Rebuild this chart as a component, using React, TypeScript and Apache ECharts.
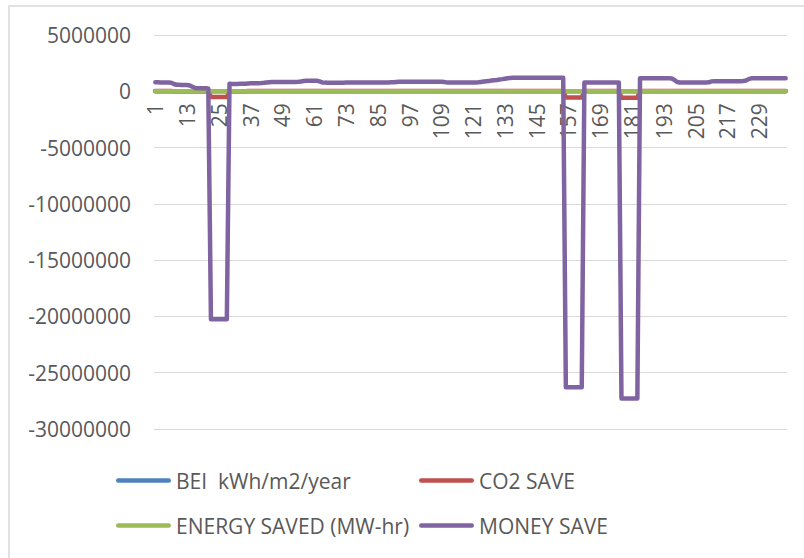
import React, { useEffect, useRef } from "react";
import * as echarts from "echarts";

const categories: string[] = Array.from({ length: 239 }, (_, i) => String(i + 1));

const yTicks = { min: -30000000, max: 5000000, interval: 5000000 };

const seriesNames = ["BEI  kWh/m2/year", "CO2 SAVE", "ENERGY SAVED (MW-hr)", "MONEY SAVE"];

const beiKwhM2Year = [
  182, 182, 181, 181, 181, 180, 180, 178, 176, 176,
  175, 175, 175, 174, 172, 170, 170, 170, 170, 169,
  168, 190, 190, 190, 190, 190, 190, 190, 176, 176,
  176, 176, 176, 176, 177, 177, 178, 178, 178, 178,
  178, 179, 179, 180, 180, 180, 180, 180, 180, 180,
  180, 180, 180, 180, 180, 180, 182, 183, 183, 183,
  183, 183, 182, 180, 179, 179, 179, 179, 179, 179,
  179, 179, 179, 179, 179, 179, 179, 179, 179, 179,
  179, 179, 179, 180, 180, 180, 180, 180, 180, 180,
  180, 181, 181, 181, 181, 181, 181, 181, 181, 181,
  181, 181, 181, 181, 181, 181, 181, 181, 181, 181,
  180, 180, 179, 179, 179, 179, 179, 179, 179, 179,
  179, 180, 180, 181, 182, 182, 183, 183, 184, 185,
  185, 186, 187, 187, 188, 188, 188, 188, 188, 188,
  188, 188, 188, 188, 188, 188, 188, 188, 188, 188,
  188, 188, 188, 188, 188, 195, 195, 195, 195, 195,
  195, 195, 179, 179, 179, 179, 179, 179, 179, 179,
  179, 179, 179, 179, 179, 179, 196, 196, 196, 196,
  196, 196, 196, 187, 187, 187, 187, 187, 187, 187,
  187, 187, 187, 187, 187, 187, 186, 182, 179, 179,
  179, 179, 179, 179, 179, 179, 179, 179, 179, 180,
  182, 182, 182, 182, 182, 182, 182, 182, 182, 182,
  182, 182, 182, 183, 185, 187, 187, 187, 187, 187,
  187, 187, 187, 187, 187, 187, 187, 187, 187,
];

const co2Save = [
  // 1-7
  18000, 18000, 17000, 17000, 17000, 17000, 17000,
  // 8
  14000,
  // 9-14
  13000, 13000, 12000, 12000, 12000, 11000,
  // 15
  9000,
  // 16-21
  6000, 6000, 6000, 6000, 6000, 5000,
  // 22-28
  -500000, -500000, -500000, -500000, -500000, -500000, -500000,
  // 29-36
  14000, 14000, 14000, 14000, 14000, 14000, 14000, 15000,
  // 37-43
  16000, 16000, 16000, 16000, 16000, 16000, 17000,
  // 44-56
  18000, 18000, 18000, 18000, 18000, 18000, 18000, 18000, 18000, 18000, 18000, 18000, 19000,
  // 57-63
  20000, 21000, 21000, 21000, 21000, 21000, 19000,
  // 64-92
  17000, 17000, 17000, 17000, 17000, 17000, 17000, 17000, 17000, 17000,
  17000, 17000, 17000, 17000, 17000, 17000, 17000, 17000, 17000, 17000,
  17000, 17000, 17000, 17000, 17000, 17000, 18000, 18000, 18000,
  // 93-110
  19000, 19000, 19000, 19000, 19000, 19000, 19000, 19000, 19000, 19000,
  19000, 19000, 19000, 19000, 19000, 19000, 19000, 18000,
  // 111-123
  17000, 17000, 17000, 17000, 17000, 17000, 17000, 17000, 17000, 17000, 17000, 17000, 18000,
  // 124-132
  19000, 19000, 20000, 20000, 21000, 22000, 22000, 23000, 24000,
  // 133-135
  25000, 25000, 26000,
  // 136-155
  27000, 27000, 27000, 27000, 27000, 27000, 27000, 27000, 27000, 27000,
  27000, 27000, 27000, 27000, 27000, 27000, 27000, 27000, 27000, 27000,
  // 156-162
  -560000, -560000, -560000, -560000, -560000, -560000, -560000,
  // 163-176
  17000, 17000, 17000, 17000, 17000, 17000, 17000, 17000, 17000, 17000, 17000, 17000, 17000, 17000,
  // 177-183
  -580000, -580000, -580000, -580000, -580000, -580000, -580000,
  // 184-196
  25000, 25000, 25000, 25000, 25000, 25000, 25000, 25000, 25000, 25000, 25000, 25000, 25000,
  // 197-210
  22000, 18000, 17000, 17000, 17000, 17000, 17000, 17000, 17000, 17000, 17000, 17000, 17000, 18000,
  // 211-224
  20000, 20000, 20000, 20000, 20000, 20000, 20000, 20000, 20000, 20000, 20000, 20000, 20000, 21000,
  // 225-239
  24000, 25000, 25000, 25000, 25000, 25000, 25000, 25000, 25000, 25000, 25000, 25000, 25000, 25000, 25000,
];

const energySavedMWhr = [
  820, 820, 810, 810, 810, 800, 780, 660, 590, 580,
  570, 570, 560, 530, 410, 300, 290, 280, 280, 270,
  250, 900, 900, 900, 900, 900, 900, 900, 670, 660,
  660, 660, 670, 670, 680, 700, 720, 720, 730, 730,
  740, 760, 790, 820, 830, 830, 840, 840, 840, 840,
  840, 840, 840, 840, 850, 880, 930, 950, 950, 950,
  950, 940, 890, 800, 780, 770, 770, 770, 770, 770,
  770, 770, 780, 780, 780, 780, 780, 780, 780, 790,
  790, 790, 790, 790, 800, 800, 800, 800, 800, 810,
  810, 830, 850, 860, 860, 860, 860, 860, 860, 860,
  860, 860, 860, 860, 860, 860, 860, 860, 850, 830,
  800, 790, 780, 780, 780, 780, 780, 780, 780, 790,
  790, 800, 810, 840, 870, 900, 930, 960, 990, 1020,
  1060, 1090, 1130, 1170, 1200, 1220, 1230, 1230, 1230, 1230,
  1230, 1230, 1230, 1230, 1230, 1230, 1230, 1230, 1230, 1230,
  1230, 1230, 1230, 1230, 1230, 950, 950, 950, 950, 950,
  950, 950, 800, 790, 790, 790, 790, 790, 790, 790,
  790, 790, 790, 790, 790, 800, 980, 980, 980, 980,
  980, 980, 980, 1140, 1140, 1140, 1140, 1140, 1140, 1140,
  1140, 1140, 1140, 1140, 1140, 1130, 1010, 830, 790, 780,
  780, 780, 780, 780, 780, 780, 780, 780, 790, 810,
  890, 910, 910, 910, 910, 910, 910, 910, 910, 910,
  910, 910, 920, 960, 1090, 1140, 1140, 1140, 1140, 1140,
  1140, 1140, 1140, 1140, 1140, 1140, 1140, 1140, 1140,
];

const moneySave = [
  // 1-7
  800000, 800000, 790000, 790000, 790000, 780000, 760000,
  // 8
  650000,
  // 9-14
  580000, 570000, 560000, 560000, 550000, 520000,
  // 15
  400000,
  // 16-21
  290000, 280000, 270000, 270000, 260000, 240000,
  // 22-28
  -20250000, -20250000, -20250000, -20250000, -20250000, -20250000, -20250000,
  // 29-36
  660000, 650000, 650000, 650000, 660000, 660000, 670000, 690000,
  // 37-43
  710000, 710000, 720000, 720000, 730000, 750000, 780000,
  // 44-56
  810000, 820000, 820000, 830000, 830000, 830000, 830000, 830000, 830000, 830000, 830000, 840000, 870000,
  // 57-63
  920000, 940000, 940000, 940000, 940000, 930000, 880000,
  // 64-92
  790000, 770000, 760000, 760000, 760000, 760000, 760000, 760000, 760000, 770000,
  770000, 770000, 770000, 770000, 770000, 770000, 780000, 780000, 780000, 780000,
  780000, 790000, 790000, 790000, 790000, 790000, 800000, 800000, 820000,
  // 93-110
  840000, 850000, 850000, 850000, 850000, 850000, 850000, 850000, 850000, 850000,
  850000, 850000, 850000, 850000, 850000, 850000, 840000, 820000,
  // 111-123
  790000, 780000, 770000, 770000, 770000, 770000, 770000, 770000, 770000, 780000, 780000, 790000, 800000,
  // 124-132
  830000, 860000, 890000, 920000, 950000, 980000, 1010000, 1050000, 1080000,
  // 133-135
  1120000, 1160000, 1190000,
  // 136-155
  1200000, 1210000, 1210000, 1210000, 1210000, 1210000, 1210000, 1210000, 1210000, 1210000,
  1210000, 1210000, 1210000, 1210000, 1210000, 1210000, 1210000, 1210000, 1210000, 1210000,
  // 156-162
  -26300000, -26300000, -26300000, -26300000, -26300000, -26300000, -26300000,
  // 163-176
  790000, 780000, 780000, 780000, 780000, 780000, 780000, 780000, 780000, 780000, 780000, 780000, 780000, 790000,
  // 177-183
  -27300000, -27300000, -27300000, -27300000, -27300000, -27300000, -27300000,
  // 184-196
  1150000, 1150000, 1150000, 1150000, 1150000, 1150000, 1150000, 1150000, 1150000, 1150000, 1150000, 1150000, 1140000,
  // 197-210
  1000000, 820000, 780000, 770000, 770000, 770000, 770000, 770000, 770000, 770000, 770000, 770000, 780000, 800000,
  // 211-224
  880000, 900000, 900000, 900000, 900000, 900000, 900000, 900000, 900000, 900000, 900000, 900000, 910000, 950000,
  // 225-239
  1080000, 1150000, 1150000, 1150000, 1150000, 1150000, 1150000, 1150000, 1150000, 1150000, 1150000, 1150000, 1150000, 1150000, 1150000,
];

const seriesColors = ["#4F81BD", "#C0504D", "#9BBB59", "#8064A2"];

const FONT = "'Open Sans', sans-serif";
const TEXT_COLOR = "#595959";
const LEGEND_ICON =
  "path://M2.25,0H52.75A2.25,2.25,0,0,1,52.75,4.5H2.25A2.25,2.25,0,0,1,2.25,0Z";

const CHART_W = 804;
const CHART_H = 558;
const GRID = { left: 154, right: 17, top: 35, bottom: 129 };

export default function App() {
  const ref = useRef<HTMLDivElement>(null);

  useEffect(() => {
    if (!ref.current) return;
    const chart = echarts.init(ref.current, null, { renderer: "svg" });
    const values = [beiKwhM2Year, co2Save, energySavedMWhr, moneySave];

    // place the category axis where the value axis crosses zero (Excel style)
    const gridH = CHART_H - GRID.top - GRID.bottom;
    const zeroFromBottom = (gridH * (0 - yTicks.min)) / (yTicks.max - yTicks.min);

    const legendBase = {
      padding: 0,
      itemWidth: 55,
      itemHeight: 4.5,
      icon: LEGEND_ICON,
      textStyle: { fontSize: 21, color: TEXT_COLOR, fontFamily: FONT },
    };

    chart.setOption({
      animation: false,
      backgroundColor: "#ffffff",
      textStyle: { fontFamily: FONT },
      graphic: [
        {
          type: "rect",
          shape: { x: 9, y: 6, width: 810, height: 570 },
          style: { fill: "none", stroke: "#d9d9d9", lineWidth: 1.5 },
          silent: true,
        },
      ],
      grid: { ...GRID, containLabel: false },
      xAxis: {
        type: "category",
        data: categories,
        boundaryGap: true,
        position: "bottom",
        offset: -zeroFromBottom,
        axisLine: { show: true, onZero: false, lineStyle: { color: "#d9d9d9", width: 1 } },
        axisTick: { show: false },
        axisLabel: {
          interval: 11,
          rotate: 90,
          margin: 12,
          fontSize: 21,
          color: TEXT_COLOR,
          fontFamily: FONT,
        },
        splitLine: { show: false },
      },
      yAxis: {
        type: "value",
        min: yTicks.min,
        max: yTicks.max,
        interval: yTicks.interval,
        axisLine: { show: false },
        axisTick: { show: false },
        axisLabel: {
          margin: 23,
          fontSize: 21,
          color: TEXT_COLOR,
          fontFamily: FONT,
          formatter: (v: number) => String(v),
        },
        splitLine: { show: true, lineStyle: { color: "#d9d9d9", width: 1 } },
      },
      legend: [
        { ...legendBase, data: [seriesNames[0]], left: 116, top: 470 },
        { ...legendBase, data: [seriesNames[1]], left: 419, top: 470 },
        { ...legendBase, data: [seriesNames[2]], left: 116, top: 515 },
        { ...legendBase, data: [seriesNames[3]], left: 419, top: 515 },
      ],
      series: seriesNames.map((name, i) => ({
        name,
        type: "line",
        data: values[i],
        symbol: "none",
        showSymbol: false,
        color: seriesColors[i],
        lineStyle: { width: 4.5, color: seriesColors[i], cap: "round", join: "round" },
        emphasis: { disabled: true },
      })),
    });

    return () => chart.dispose();
  }, []);

  return (
    <div
      ref={ref}
      style={{ position: "fixed", left: 0, top: 0, width: CHART_W, height: CHART_H, background: "#fff" }}
    />
  );
}
